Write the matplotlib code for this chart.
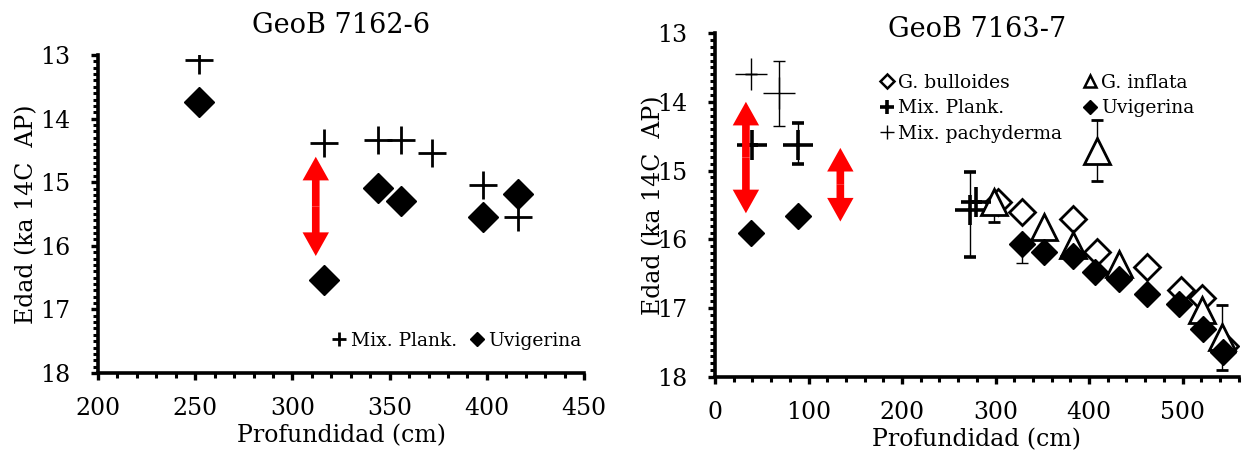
import matplotlib
matplotlib.use('Agg')
import matplotlib.pyplot as plt
from matplotlib.lines import Line2D
from matplotlib.ticker import MultipleLocator

plt.rcParams['font.family'] = ['DejaVu Serif']

# ---- GeoB 7162-6 ----
l_plank_x = [252, 316, 344, 356, 372, 398, 416]
l_plank_y = [13.08, 14.39, 14.34, 14.34, 14.54, 15.05, 15.55]
l_uvig_x = [252, 316, 344, 356, 398, 416]
l_uvig_y = [13.74, 16.53, 15.09, 15.29, 15.55, 15.18]
l_arrow = (312, 14.6, 16.16)

# ---- GeoB 7163-7 ----
bull_x = [303, 328, 383, 408, 462, 498, 521, 545]
bull_y = [15.45, 15.6, 15.7, 16.19, 16.4, 16.74, 16.85, 17.55]

infl_x = [298, 352, 383, 408, 432, 521, 542]
infl_y = [15.45, 15.82, 16.08, 14.72, 16.36, 17.03, 17.42]
infl_lo = [0.30, 0, 0, 0.43, 0, 0, 0.48]
infl_hi = [0, 0, 0, 0.45, 0, 0, 0.47]

uvig_x = [38, 89, 328, 352, 383, 406, 432, 462, 496, 522, 543]
uvig_y = [15.9, 15.66, 16.06, 16.18, 16.24, 16.47, 16.57, 16.8, 16.94, 17.3, 17.64]
uvig_lo = [0, 0, 0, 0, 0, 0, 0, 0, 0, 0, 0]
uvig_hi = [0, 0, 0.29, 0, 0, 0, 0, 0, 0, 0, 0]

plank_x = [40, 89, 273, 279]
plank_y = [14.63, 14.63, 15.57, 15.45]
plank_lo = [0, 0.32, 0.55, 0]
plank_hi = [0, 0.28, 0.68, 0]

pachy_x = [38, 68]
pachy_y = [13.6, 13.87]
pachy_lo = [0, 0.47]
pachy_hi = [0, 0.48]

r_arrows = [(33, 14.0, 15.62), (134, 14.67, 15.74)]

fig = plt.figure(figsize=(12.44, 4.57), dpi=100)


def style_axes(ax, xmaj, xmin, xlim, ylabpad):
    ax.set_xlim(*xlim)
    ax.set_ylim(18, 13)
    ax.xaxis.set_major_locator(MultipleLocator(xmaj))
    ax.xaxis.set_minor_locator(MultipleLocator(xmin))
    ax.yaxis.set_major_locator(MultipleLocator(1))
    ax.yaxis.set_minor_locator(MultipleLocator(0.1))
    for s in ['top', 'right']:
        ax.spines[s].set_visible(False)
    for s in ['left', 'bottom']:
        ax.spines[s].set_linewidth(2.6)
    ax.tick_params(which='major', direction='out', length=5, width=2.4,
                   labelsize=17)
    ax.tick_params(which='minor', direction='out', length=3.5, width=2.2)
    ax.tick_params(axis='y', pad=15)
    ax.tick_params(axis='x', pad=12)
    ax.set_xlabel('Profundidad (cm)', fontsize=17, labelpad=3)
    ax.set_ylabel('Edad (ka 14C  AP)', fontsize=17, labelpad=ylabpad)


def red_arrow(ax, x, y0, y1):
    ym = (y0 + y1) / 2
    for yend in (y0, y1):
        ax.annotate('', xy=(x, yend), xytext=(x, ym),
                    arrowprops=dict(arrowstyle='simple,head_length=17,head_width=19,tail_width=5.5',
                                    mutation_scale=1, lw=0, color='red',
                                    shrinkA=0, shrinkB=0))


# left panel
ax1 = fig.add_axes([0.0788, 0.1838, 0.3907, 0.6958])
ax1.plot(l_plank_x, l_plank_y, ls='none', marker='+', ms=20, mew=2,
         color='black', label='Mix. Plank.')
ax1.plot(l_uvig_x, l_uvig_y, ls='none', marker='D', ms=15, color='black',
         label='Uvigerina')
red_arrow(ax1, *l_arrow)
style_axes(ax1, 50, 10, (200, 450), 1)
ax1.set_title('GeoB 7162-6', fontsize=19.5, pad=16)
ax1.legend(loc='lower right', bbox_to_anchor=(1.03, 0.02), ncol=2, frameon=False,
           fontsize=13.5, markerscale=0.5, handlelength=0.6, handletextpad=0.3,
           columnspacing=0.8)

# right panel
ax2 = fig.add_axes([0.5748, 0.175, 0.4209, 0.7528])
ax2.plot(bull_x, bull_y, ls='none', marker='D', ms=13.5, mfc='white',
         mec='black', mew=2)
ax2.errorbar(infl_x, infl_y, yerr=[infl_hi, infl_lo], ls='none', marker='^',
             ms=19, mfc='white', mec='black', mew=2, color='black',
             ecolor='black', elinewidth=1, capsize=4)
ax2.errorbar(uvig_x, uvig_y, yerr=[uvig_lo, uvig_hi], ls='none', marker='D',
             ms=13.5, color='black', ecolor='black', elinewidth=1, capsize=4)
ax2.errorbar(plank_x, plank_y, yerr=[plank_lo, plank_hi], ls='none', marker='+',
             ms=21, mew=2.6, color='black', ecolor='black', elinewidth=1,
             capsize=4)
ax2.errorbar(pachy_x, pachy_y, yerr=[pachy_lo, pachy_hi], ls='none', marker='+',
             ms=23, mew=1, color='black', ecolor='black', elinewidth=1,
             capsize=4)
for a in r_arrows:
    red_arrow(ax2, *a)
style_axes(ax2, 100, 20, (0, 560), -6)
ax2.set_title('GeoB 7163-7', fontsize=19.5, y=1.0, pad=-3)

hs = [Line2D([], [], ls='none', marker='D', ms=7, mfc='white', mec='black', mew=1.8),
      Line2D([], [], ls='none', marker='+', ms=10, mew=2.6, color='black'),
      Line2D([], [], ls='none', marker='+', ms=10, mew=1, color='black'),
      Line2D([], [], ls='none', marker='^', ms=9, mfc='white', mec='black', mew=1.8),
      Line2D([], [], ls='none', marker='D', ms=7, color='black')]
labels = ['G. bulloides', 'Mix. Plank.', 'Mix. pachyderma', 'G. inflata', 'Uvigerina']
ax2.legend(hs, labels, loc='upper left', bbox_to_anchor=(0.285, 0.93), ncol=2,
           frameon=False, fontsize=13.5, handlelength=0.6,
           handletextpad=0.3, columnspacing=1.2, labelspacing=0.4)

fig.savefig('out.png', dpi=100)
